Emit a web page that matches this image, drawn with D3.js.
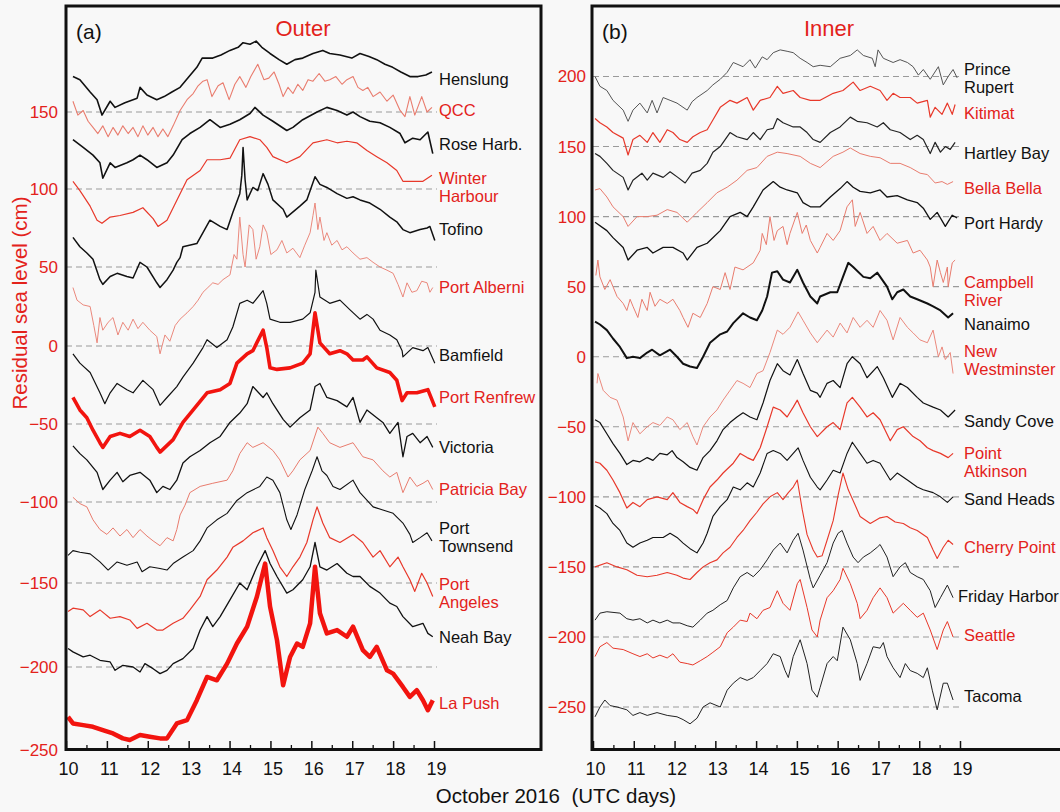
<!DOCTYPE html>
<html>
<head>
<meta charset="utf-8">
<script src="https://cdn.jsdelivr.net/npm/d3@7"></script>
<style>
  body { margin: 0; background: #f8f8f8; }
  svg text { font-family: "Liberation Sans", Arial, sans-serif; }
</style>
</head>
<body>
<svg id="chart" width="1060" height="812"></svg>
<script>
// ---- data : [UTC day of October 2016, residual sea level cm (offset for stacking)] ----
// panel (a) outer coast
const henslung = [[10.17,173],[10.34,171],[10.59,163],[10.76,158],[10.88,148],[11.08,157],[11.20,153],[11.44,156],[11.74,159],[11.81,166],[11.98,161],[12.22,158],[12.40,160],[12.59,163],[12.79,166],[13.01,173],[13.20,179],[13.33,185],[13.59,185],[13.79,187],[14.01,190],[14.21,192],[14.33,195],[14.50,194],[14.65,196],[14.79,192],[14.99,188],[15.21,184],[15.40,181],[15.60,184],[15.79,185],[16.04,188],[16.28,190],[16.45,188],[16.70,187],[16.99,185],[17.19,188],[17.41,186],[17.60,184],[17.80,181],[17.99,179],[18.19,176],[18.41,173],[18.61,173],[18.80,174],[18.95,176]];
const qcc = [[10.17,157],[10.29,148],[10.42,151],[10.54,144],[10.66,140],[10.78,136],[10.90,141],[11.03,134],[11.15,140],[11.27,135],[11.39,141],[11.52,136],[11.64,140],[11.76,134],[11.88,141],[12.00,135],[12.13,140],[12.25,134],[12.37,139],[12.49,134],[12.62,141],[12.79,151],[12.96,158],[13.11,162],[13.23,167],[13.35,170],[13.45,171],[13.57,160],[13.72,167],[13.84,169],[13.99,158],[14.13,168],[14.25,173],[14.40,166],[14.52,173],[14.69,181],[14.84,171],[14.96,172],[15.09,176],[15.21,168],[15.31,160],[15.43,166],[15.55,162],[15.67,168],[15.79,164],[15.92,171],[16.04,170],[16.19,175],[16.33,170],[16.45,171],[16.60,173],[16.75,168],[16.87,171],[17.02,173],[17.14,166],[17.26,164],[17.38,166],[17.51,160],[17.68,163],[17.85,157],[18.00,161],[18.17,151],[18.29,147],[18.41,160],[18.53,148],[18.70,160],[18.83,150],[18.95,153]];
const roseHarb = [[10.17,132],[10.42,127],[10.66,122],[10.83,117],[10.90,107],[11.08,117],[11.20,114],[11.49,117],[11.64,119],[11.81,122],[11.98,119],[12.22,114],[12.47,117],[12.62,122],[12.84,132],[13.03,136],[13.28,140],[13.52,145],[13.77,140],[14.01,142],[14.25,145],[14.50,149],[14.62,153],[14.82,148],[15.06,144],[15.40,138],[15.55,140],[15.79,145],[16.14,150],[16.38,153],[16.63,151],[16.87,148],[17.02,150],[17.19,147],[17.43,144],[17.68,143],[17.92,140],[18.17,136],[18.29,130],[18.48,133],[18.66,132],[18.85,137],[18.97,123]];
const winterHarbour = [[10.17,105],[10.34,99],[10.59,89],[10.76,80],[10.88,78],[11.08,82],[11.32,83],[11.64,85],[11.88,88],[12.13,81],[12.25,76],[12.47,80],[12.79,97],[12.96,106],[13.28,112],[13.45,119],[13.77,119],[14.01,120],[14.25,132],[14.50,134],[14.74,132],[14.91,127],[15.06,121],[15.40,117],[15.72,121],[16.04,130],[16.38,132],[16.63,130],[16.87,131],[17.11,130],[17.36,125],[17.60,121],[17.85,117],[18.09,112],[18.24,105],[18.48,105],[18.73,105],[18.95,109]];
const tofino = [[10.17,69],[10.34,63],[10.51,59],[10.66,55],[10.83,42],[10.90,39],[11.08,44],[11.25,46],[11.49,44],[11.64,43],[11.81,53],[11.98,50],[12.22,40],[12.30,37],[12.47,42],[12.62,48],[12.71,53],[12.79,56],[12.86,63],[13.20,65],[13.35,72],[13.52,80],[13.77,76],[13.94,74],[14.08,85],[14.25,97],[14.30,109],[14.33,127],[14.38,106],[14.43,93],[14.57,101],[14.69,99],[14.82,110],[14.94,103],[15.06,93],[15.31,87],[15.40,82],[15.72,89],[15.89,93],[16.09,108],[16.21,103],[16.38,101],[16.63,97],[16.87,94],[17.02,95],[17.19,93],[17.43,91],[17.68,87],[17.92,82],[18.09,79],[18.24,74],[18.41,72],[18.66,74],[18.83,75],[18.90,76],[19.02,67]];
const portAlberni = [[10.17,37],[10.27,29],[10.42,26],[10.59,25],[10.68,13],[10.76,2],[10.83,18],[10.90,10],[11.03,15],[11.15,18],[11.27,7],[11.39,15],[11.52,10],[11.64,17],[11.76,11],[11.88,15],[12.05,10],[12.22,6],[12.30,-5],[12.42,7],[12.54,3],[12.67,13],[12.79,17],[12.96,21],[13.11,25],[13.23,29],[13.35,34],[13.47,37],[13.59,40],[13.72,39],[13.84,42],[14.01,45],[14.11,58],[14.18,55],[14.25,82],[14.33,58],[14.38,50],[14.48,77],[14.57,74],[14.65,55],[14.74,63],[14.82,77],[14.91,72],[15.01,58],[15.16,61],[15.28,67],[15.40,59],[15.55,62],[15.72,56],[15.84,64],[15.97,72],[16.04,83],[16.09,91],[16.16,74],[16.21,82],[16.31,67],[16.38,72],[16.50,64],[16.63,67],[16.75,61],[16.87,63],[17.02,59],[17.19,55],[17.36,56],[17.51,53],[17.68,50],[17.85,48],[18.00,46],[18.12,39],[18.24,31],[18.34,40],[18.46,34],[18.58,35],[18.70,41],[18.83,40],[18.90,34],[18.97,37]];
const bamfield = [[10.17,-5],[10.34,-11],[10.59,-17],[10.83,-30],[10.95,-37],[11.08,-30],[11.25,-24],[11.49,-28],[11.64,-30],[11.88,-22],[12.13,-28],[12.30,-38],[12.47,-33],[12.71,-26],[12.86,-20],[13.11,-11],[13.35,-1],[13.45,4],[13.69,-1],[13.94,4],[14.08,12],[14.25,27],[14.43,29],[14.57,27],[14.82,35],[14.91,27],[14.99,17],[15.23,15],[15.48,15],[15.79,17],[15.97,21],[16.09,34],[16.11,48],[16.21,31],[16.45,27],[16.70,29],[16.94,23],[17.19,17],[17.36,20],[17.51,17],[17.68,10],[17.92,7],[18.09,4],[18.22,-3],[18.24,-7],[18.48,-1],[18.73,-3],[18.85,-1],[19.02,-11]];
const portRenfrew = [[10.17,-33],[10.34,-41],[10.51,-46],[10.66,-54],[10.83,-62],[10.90,-65],[11.08,-58],[11.32,-56],[11.56,-58],[11.81,-54],[12.05,-58],[12.22,-65],[12.30,-68],[12.62,-60],[12.86,-49],[13.11,-41],[13.45,-30],[13.77,-28],[14.01,-24],[14.18,-11],[14.43,-5],[14.57,-3],[14.82,10],[14.91,-1],[14.99,-14],[15.16,-15],[15.48,-14],[15.79,-11],[15.97,-5],[16.09,21],[16.21,2],[16.45,-5],[16.70,-3],[16.87,-5],[17.02,-9],[17.26,-9],[17.36,-7],[17.60,-14],[17.92,-17],[18.09,-22],[18.22,-35],[18.34,-30],[18.58,-30],[18.85,-28],[19.02,-39]];
const victoria = [[10.17,-64],[10.34,-69],[10.51,-73],[10.76,-81],[10.90,-92],[11.08,-86],[11.25,-81],[11.39,-87],[11.56,-83],[11.81,-81],[12.05,-86],[12.22,-94],[12.37,-90],[12.54,-92],[12.71,-86],[12.86,-75],[13.03,-71],[13.28,-67],[13.52,-62],[13.77,-58],[14.01,-49],[14.25,-43],[14.43,-37],[14.57,-26],[14.82,-33],[14.91,-30],[15.06,-37],[15.31,-47],[15.48,-52],[15.72,-46],[15.97,-41],[16.09,-26],[16.21,-24],[16.38,-33],[16.63,-35],[16.87,-39],[17.02,-33],[17.19,-49],[17.36,-41],[17.60,-46],[17.75,-49],[17.92,-56],[18.12,-49],[18.24,-71],[18.34,-58],[18.48,-56],[18.66,-62],[18.83,-58],[18.97,-65]];
const patriciaBay = [[10.17,-97],[10.34,-101],[10.51,-103],[10.66,-111],[10.83,-117],[11.00,-120],[11.15,-116],[11.32,-121],[11.49,-117],[11.64,-122],[11.81,-117],[11.98,-121],[12.13,-124],[12.30,-127],[12.47,-122],[12.62,-124],[12.71,-117],[12.79,-108],[12.91,-102],[13.03,-94],[13.28,-90],[13.59,-88],[13.94,-86],[14.08,-80],[14.25,-69],[14.43,-62],[14.57,-65],[14.82,-62],[15.06,-67],[15.23,-73],[15.43,-84],[15.55,-80],[15.72,-73],[15.97,-67],[16.16,-52],[16.28,-56],[16.45,-62],[16.70,-65],[17.02,-62],[17.26,-71],[17.51,-73],[17.75,-80],[17.92,-84],[18.09,-81],[18.24,-94],[18.41,-84],[18.58,-90],[18.73,-88],[18.85,-86],[18.97,-92]];
const portTownsend = [[10.05,-133],[10.17,-130],[10.34,-131],[10.59,-132],[10.83,-137],[11.03,-142],[11.25,-137],[11.49,-139],[11.74,-137],[11.86,-143],[12.05,-140],[12.30,-141],[12.47,-142],[12.62,-138],[12.86,-134],[13.11,-130],[13.28,-124],[13.45,-116],[13.69,-111],[13.94,-107],[14.18,-99],[14.43,-94],[14.74,-90],[14.91,-84],[15.06,-86],[15.23,-94],[15.40,-111],[15.50,-117],[15.65,-108],[15.84,-92],[16.02,-80],[16.14,-71],[16.26,-80],[16.38,-83],[16.53,-90],[16.70,-92],[17.02,-86],[17.19,-94],[17.51,-103],[17.75,-105],[18.00,-107],[18.24,-113],[18.41,-120],[18.48,-125],[18.66,-122],[18.83,-119],[18.95,-124]];
const portAngeles = [[10.05,-167],[10.17,-165],[10.42,-166],[10.59,-170],[10.83,-166],[11.08,-171],[11.32,-170],[11.56,-172],[11.74,-177],[11.98,-174],[12.22,-178],[12.37,-178],[12.62,-174],[12.86,-171],[13.03,-166],[13.28,-158],[13.45,-148],[13.69,-142],[13.94,-134],[14.08,-128],[14.33,-124],[14.57,-119],[14.82,-116],[14.91,-122],[15.06,-130],[15.23,-140],[15.40,-146],[15.55,-140],[15.72,-134],[15.89,-125],[16.04,-111],[16.14,-103],[16.28,-113],[16.45,-122],[16.70,-125],[17.02,-120],[17.26,-125],[17.51,-134],[17.68,-130],[17.92,-140],[18.12,-134],[18.24,-140],[18.41,-148],[18.53,-155],[18.70,-144],[18.83,-150],[18.97,-158]];
const neahBay = [[10.05,-189],[10.17,-191],[10.42,-194],[10.59,-193],[10.83,-196],[11.08,-197],[11.20,-202],[11.39,-199],[11.64,-200],[11.81,-203],[11.93,-198],[12.13,-201],[12.30,-204],[12.47,-202],[12.62,-198],[12.86,-195],[13.11,-189],[13.28,-178],[13.45,-170],[13.59,-176],[13.77,-170],[14.01,-160],[14.25,-150],[14.43,-154],[14.67,-140],[14.87,-130],[14.99,-138],[15.16,-146],[15.40,-156],[15.55,-154],[15.79,-148],[15.97,-140],[16.09,-125],[16.21,-140],[16.38,-142],[16.63,-138],[16.87,-144],[17.02,-146],[17.19,-146],[17.43,-152],[17.68,-156],[17.92,-162],[18.09,-164],[18.24,-170],[18.48,-176],[18.73,-174],[18.85,-180],[18.97,-182]];
const laPush = [[10.05,-230],[10.17,-234],[10.42,-235],[10.66,-236],[10.90,-238],[11.15,-240],[11.39,-243],[11.56,-244],[11.81,-241],[12.05,-242],[12.30,-243],[12.47,-243],[12.71,-234],[12.96,-232],[13.20,-220],[13.45,-206],[13.69,-208],[13.94,-198],[14.18,-186],[14.43,-176],[14.67,-158],[14.87,-138],[14.99,-164],[15.16,-184],[15.31,-211],[15.48,-194],[15.65,-186],[15.79,-188],[15.97,-174],[16.09,-140],[16.21,-168],[16.38,-180],[16.63,-178],[16.87,-182],[17.02,-176],[17.26,-190],[17.43,-194],[17.60,-188],[17.85,-202],[18.00,-204],[18.24,-212],[18.41,-218],[18.58,-214],[18.73,-220],[18.85,-226],[18.97,-220]];

// panel (b) inner waters
const princeRupert = [[10.05,200],[10.17,193],[10.34,190],[10.49,183],[10.74,176],[10.86,168],[10.98,176],[11.15,181],[11.33,174],[11.45,183],[11.57,174],[11.72,185],[11.89,183],[12.06,181],[12.31,176],[12.43,182],[12.55,185],[12.80,190],[12.94,194],[13.12,198],[13.29,203],[13.44,210],[13.68,207],[13.85,212],[13.98,206],[14.15,214],[14.27,212],[14.42,217],[14.59,219],[14.76,218],[14.91,217],[15.08,213],[15.25,210],[15.40,207],[15.57,208],[15.82,207],[16.06,213],[16.31,215],[16.48,219],[16.63,215],[16.85,213],[16.92,207],[16.99,219],[17.12,213],[17.36,210],[17.53,212],[17.71,210],[17.85,207],[17.98,201],[18.10,205],[18.27,198],[18.47,207],[18.59,194],[18.71,200],[18.83,205],[18.93,199]];
const kitimat = [[10.05,170],[10.17,167],[10.34,164],[10.49,160],[10.74,156],[10.86,144],[10.98,155],[11.15,158],[11.33,153],[11.47,160],[11.64,153],[11.82,162],[11.96,160],[12.13,155],[12.31,153],[12.45,157],[12.63,160],[12.80,162],[12.94,169],[13.12,178],[13.36,183],[13.53,181],[13.78,185],[13.93,176],[14.10,183],[14.34,185],[14.52,193],[14.66,188],[14.91,190],[15.08,185],[15.33,183],[15.57,183],[15.89,188],[16.13,190],[16.38,196],[16.55,190],[16.80,193],[17.04,190],[17.21,183],[17.36,188],[17.53,185],[17.78,185],[17.95,181],[18.20,183],[18.27,171],[18.39,178],[18.56,173],[18.69,181],[18.81,173],[18.88,180]];
const hartleyBay = [[10.05,145],[10.17,143],[10.34,138],[10.49,133],[10.74,128],[10.86,119],[10.98,126],[11.20,131],[11.33,126],[11.47,131],[11.72,128],[11.89,132],[12.08,128],[12.26,124],[12.43,131],[12.63,133],[12.80,138],[12.94,146],[13.12,150],[13.36,160],[13.53,157],[13.78,155],[13.93,160],[14.10,155],[14.27,162],[14.42,163],[14.52,170],[14.66,167],[14.91,164],[15.08,164],[15.25,160],[15.40,155],[15.57,153],[15.82,160],[16.06,164],[16.31,171],[16.48,168],[16.72,167],[16.97,164],[17.12,167],[17.29,162],[17.53,160],[17.78,155],[17.95,158],[18.10,155],[18.27,145],[18.39,153],[18.52,146],[18.64,150],[18.76,148],[18.88,153]];
const bellaBella = [[10.05,119],[10.17,120],[10.34,114],[10.49,107],[10.74,100],[10.86,93],[11.08,100],[11.33,100],[11.57,101],[11.82,105],[12.06,103],[12.31,96],[12.55,103],[12.80,110],[13.04,117],[13.29,121],[13.53,126],[13.78,133],[14.02,135],[14.27,143],[14.52,146],[14.76,145],[15.08,143],[15.33,138],[15.57,135],[15.89,143],[16.13,146],[16.31,149],[16.55,145],[16.80,143],[17.04,142],[17.29,138],[17.53,138],[17.78,135],[18.02,131],[18.20,130],[18.39,124],[18.56,125],[18.69,123],[18.83,125]];
const portHardy = [[10.05,96],[10.34,90],[10.49,85],[10.74,78],[10.86,69],[11.08,76],[11.33,78],[11.47,74],[11.72,78],[11.96,78],[12.21,74],[12.31,69],[12.55,78],[12.80,81],[13.12,90],[13.36,100],[13.61,103],[13.78,100],[13.93,107],[14.17,119],[14.42,125],[14.59,121],[14.76,119],[15.01,117],[15.15,110],[15.33,107],[15.57,107],[15.82,114],[16.06,120],[16.23,125],[16.38,121],[16.55,118],[16.80,117],[17.04,119],[17.21,114],[17.46,115],[17.71,112],[17.95,110],[18.10,106],[18.27,98],[18.44,103],[18.64,93],[18.81,101],[18.93,99]];
const campbellRiver = [[10.07,58],[10.12,69],[10.17,57],[10.29,48],[10.42,55],[10.49,50],[10.59,43],[10.74,38],[10.83,33],[10.91,41],[10.98,36],[11.10,28],[11.20,41],[11.33,33],[11.40,46],[11.52,36],[11.64,41],[11.82,38],[11.96,41],[12.13,33],[12.21,28],[12.33,21],[12.45,31],[12.63,28],[12.80,38],[12.94,50],[13.12,48],[13.24,60],[13.36,48],[13.48,64],[13.68,62],[13.93,67],[14.10,76],[14.15,88],[14.25,80],[14.34,100],[14.44,83],[14.52,90],[14.66,93],[14.76,80],[14.83,88],[15.01,103],[15.13,88],[15.23,94],[15.33,83],[15.50,74],[15.57,78],[15.74,88],[15.89,83],[16.06,90],[16.23,107],[16.36,112],[16.43,93],[16.55,103],[16.72,88],[16.87,93],[17.04,83],[17.21,88],[17.46,81],[17.71,83],[17.85,74],[18.02,76],[18.20,69],[18.27,64],[18.34,50],[18.44,69],[18.52,60],[18.59,53],[18.69,64],[18.71,50],[18.81,67],[18.88,69]];
const nanaimo = [[10.05,25],[10.17,23],[10.34,19],[10.49,13],[10.66,7],[10.83,-1],[10.98,0],[11.15,-1],[11.33,3],[11.45,5],[11.64,1],[11.89,5],[12.06,0],[12.21,-5],[12.38,-7],[12.55,-8],[12.70,0],[12.87,10],[13.12,16],[13.29,18],[13.44,24],[13.68,31],[13.85,28],[14.02,26],[14.15,33],[14.27,43],[14.39,60],[14.52,61],[14.66,55],[14.83,53],[15.01,62],[15.15,53],[15.33,43],[15.50,38],[15.57,43],[15.82,46],[15.99,46],[16.13,57],[16.26,67],[16.38,64],[16.63,57],[16.80,56],[16.97,60],[17.21,50],[17.34,41],[17.46,46],[17.61,48],[17.78,43],[17.95,41],[18.20,38],[18.34,36],[18.52,33],[18.71,28],[18.83,31]];
const newWestminster = [[10.10,-19],[10.12,-12],[10.25,-24],[10.42,-29],[10.59,-31],[10.74,-43],[10.86,-60],[10.98,-47],[11.15,-55],[11.33,-50],[11.47,-47],[11.64,-49],[11.82,-43],[11.96,-45],[12.13,-52],[12.31,-47],[12.45,-57],[12.55,-63],[12.70,-50],[12.87,-43],[13.04,-38],[13.19,-31],[13.36,-24],[13.53,-17],[13.68,-19],[13.85,-22],[14.02,-12],[14.17,-10],[14.34,3],[14.52,19],[14.66,16],[14.83,21],[15.03,32],[15.15,26],[15.33,17],[15.50,10],[15.74,19],[15.89,14],[16.06,24],[16.23,17],[16.38,28],[16.55,21],[16.72,26],[16.87,21],[17.04,33],[17.21,26],[17.36,12],[17.53,28],[17.71,21],[17.85,17],[18.02,12],[18.20,10],[18.34,19],[18.47,0],[18.56,7],[18.64,-2],[18.76,3],[18.83,-12]];
const sandyCove = [[10.05,-45],[10.17,-47],[10.34,-55],[10.49,-62],[10.66,-69],[10.83,-77],[10.98,-74],[11.15,-75],[11.33,-72],[11.47,-74],[11.64,-69],[11.82,-70],[11.94,-67],[12.06,-72],[12.21,-75],[12.38,-79],[12.55,-81],[12.70,-72],[12.87,-67],[13.04,-60],[13.19,-52],[13.36,-47],[13.53,-43],[13.68,-40],[13.85,-43],[14.02,-45],[14.17,-33],[14.34,-17],[14.52,-5],[14.66,-10],[14.83,-13],[15.01,-2],[15.15,-12],[15.33,-24],[15.50,-26],[15.57,-29],[15.74,-19],[15.89,-17],[16.06,-22],[16.23,-5],[16.36,0],[16.55,-5],[16.72,-15],[16.97,-7],[17.12,-15],[17.34,-29],[17.53,-19],[17.71,-22],[17.95,-29],[18.10,-33],[18.34,-36],[18.52,-38],[18.71,-43],[18.88,-38]];
const pointAtkinson = [[10.05,-75],[10.17,-76],[10.34,-81],[10.49,-88],[10.66,-97],[10.83,-108],[10.98,-104],[11.15,-107],[11.33,-102],[11.57,-100],[11.82,-102],[11.96,-97],[12.13,-104],[12.31,-107],[12.45,-109],[12.55,-112],[12.70,-102],[12.87,-93],[13.04,-88],[13.19,-83],[13.44,-76],[13.61,-69],[13.78,-72],[13.93,-74],[14.10,-65],[14.27,-50],[14.42,-36],[14.59,-38],[14.76,-43],[14.91,-36],[15.01,-31],[15.15,-40],[15.33,-50],[15.50,-57],[15.74,-50],[15.89,-47],[16.06,-52],[16.23,-33],[16.36,-29],[16.55,-36],[16.72,-43],[16.87,-40],[17.04,-45],[17.29,-60],[17.46,-52],[17.61,-50],[17.85,-57],[18.02,-60],[18.20,-65],[18.34,-67],[18.52,-69],[18.71,-72],[18.83,-69]];
const sandHeads = [[10.05,-106],[10.17,-108],[10.34,-112],[10.49,-119],[10.66,-124],[10.83,-133],[10.98,-136],[11.15,-133],[11.33,-131],[11.47,-129],[11.72,-129],[11.89,-126],[12.06,-129],[12.21,-133],[12.38,-137],[12.55,-140],[12.70,-133],[12.80,-126],[12.94,-114],[13.12,-107],[13.29,-102],[13.44,-93],[13.61,-95],[13.78,-90],[13.93,-93],[14.10,-83],[14.27,-69],[14.42,-67],[14.59,-69],[14.76,-74],[14.91,-69],[15.03,-65],[15.15,-74],[15.33,-86],[15.50,-93],[15.57,-95],[15.74,-88],[15.89,-81],[16.06,-83],[16.23,-69],[16.36,-61],[16.55,-69],[16.72,-76],[16.87,-74],[17.04,-76],[17.29,-88],[17.46,-83],[17.71,-88],[17.95,-93],[18.10,-95],[18.34,-97],[18.52,-100],[18.69,-104],[18.83,-100]];
const cherryPoint = [[10.05,-150],[10.34,-147],[10.59,-150],[10.83,-152],[11.08,-156],[11.33,-157],[11.57,-156],[11.82,-154],[12.06,-156],[12.21,-158],[12.38,-159],[12.55,-154],[12.70,-150],[12.87,-147],[13.04,-145],[13.19,-140],[13.36,-136],[13.53,-129],[13.68,-124],[13.85,-117],[14.02,-111],[14.17,-105],[14.34,-100],[14.52,-97],[14.66,-102],[14.79,-97],[14.91,-93],[15.01,-88],[15.13,-109],[15.25,-127],[15.40,-138],[15.50,-143],[15.62,-142],[15.74,-131],[15.89,-117],[16.01,-99],[16.13,-83],[16.26,-95],[16.43,-106],[16.55,-114],[16.80,-119],[17.04,-115],[17.21,-114],[17.41,-118],[17.61,-119],[17.78,-122],[17.95,-124],[18.20,-129],[18.34,-138],[18.44,-144],[18.59,-136],[18.71,-131],[18.83,-134]];
const fridayHarbor = [[10.05,-188],[10.17,-183],[10.34,-182],[10.66,-183],[10.83,-187],[10.98,-188],[11.15,-187],[11.33,-190],[11.47,-188],[11.64,-190],[11.82,-188],[11.96,-190],[12.13,-190],[12.31,-192],[12.45,-193],[12.63,-188],[12.80,-183],[12.94,-181],[13.12,-177],[13.29,-174],[13.44,-165],[13.61,-157],[13.78,-154],[13.93,-157],[14.10,-152],[14.27,-145],[14.42,-138],[14.59,-133],[14.76,-140],[14.91,-131],[15.03,-126],[15.15,-138],[15.33,-159],[15.40,-165],[15.57,-156],[15.74,-147],[15.89,-133],[16.01,-126],[16.11,-124],[16.23,-133],[16.38,-143],[16.50,-147],[16.63,-143],[16.80,-140],[16.97,-136],[17.04,-134],[17.21,-143],[17.36,-157],[17.53,-150],[17.66,-147],[17.78,-154],[17.95,-157],[18.10,-159],[18.27,-167],[18.39,-179],[18.52,-172],[18.69,-163],[18.83,-172]];
const seattle = [[10.05,-214],[10.17,-207],[10.34,-204],[10.49,-208],[10.74,-209],[10.98,-212],[11.15,-214],[11.33,-212],[11.47,-215],[11.64,-213],[11.82,-215],[11.96,-212],[12.13,-218],[12.31,-219],[12.45,-220],[12.63,-217],[12.80,-214],[12.94,-211],[13.12,-207],[13.29,-197],[13.44,-193],[13.61,-188],[13.78,-189],[13.85,-183],[14.02,-187],[14.17,-181],[14.34,-179],[14.52,-167],[14.66,-176],[14.83,-181],[15.01,-162],[15.08,-159],[15.25,-179],[15.37,-195],[15.50,-200],[15.57,-188],[15.74,-172],[15.89,-167],[16.06,-159],[16.13,-151],[16.31,-162],[16.48,-176],[16.55,-187],[16.72,-181],[16.87,-172],[17.04,-165],[17.21,-172],[17.36,-183],[17.61,-176],[17.78,-181],[17.95,-186],[18.10,-183],[18.27,-195],[18.44,-209],[18.59,-195],[18.69,-189],[18.83,-200]];
const tacoma = [[10.05,-257],[10.17,-250],[10.29,-245],[10.42,-249],[10.59,-250],[10.83,-252],[10.98,-256],[11.15,-254],[11.33,-256],[11.57,-254],[11.82,-256],[12.06,-257],[12.21,-259],[12.38,-262],[12.55,-258],[12.70,-250],[12.87,-247],[13.12,-250],[13.29,-238],[13.44,-233],[13.61,-229],[13.78,-231],[13.93,-229],[14.10,-224],[14.27,-219],[14.42,-212],[14.59,-214],[14.71,-224],[14.79,-229],[14.91,-214],[15.08,-202],[15.25,-219],[15.37,-238],[15.50,-243],[15.57,-236],[15.74,-219],[15.89,-214],[15.99,-217],[16.13,-193],[16.31,-202],[16.48,-219],[16.55,-231],[16.72,-219],[16.87,-207],[17.04,-208],[17.12,-204],[17.21,-214],[17.36,-222],[17.53,-229],[17.66,-219],[17.78,-224],[17.95,-226],[18.10,-229],[18.20,-222],[18.32,-238],[18.44,-252],[18.59,-233],[18.69,-233],[18.83,-245]];

const outerNames = ["Henslung","QCC","Rose Harb.","Winter\nHarbour","Tofino","Port Alberni","Bamfield","Port Renfrew","Victoria","Patricia Bay","Port\nTownsend","Port\nAngeles","Neah Bay","La Push"];
const outerSeries = [henslung, qcc, roseHarb, winterHarbour, tofino, portAlberni, bamfield, portRenfrew, victoria, patriciaBay, portTownsend, portAngeles, neahBay, laPush];
const innerNames = ["Prince\nRupert","Kitimat","Hartley Bay","Bella Bella","Port Hardy","Campbell\nRiver","Nanaimo","New\nWestminster","Sandy Cove","Point\nAtkinson","Sand Heads","Cherry Point","Friday Harbor","Seattle","Tacoma"];
const innerSeries = [princeRupert, kitimat, hartleyBay, bellaBella, portHardy, campbellRiver, nanaimo, newWestminster, sandyCove, pointAtkinson, sandHeads, cherryPoint, fridayHarbor, seattle, tacoma];
const dayTicks = [10, 11, 12, 13, 14, 15, 16, 17, 18, 19];
const outerLevels = [-200, -150, -100, -50, 0, 50, 100, 150];
const innerLevels = [-250, -200, -150, -100, -50, 0, 50, 100, 150, 200];

// ---- drawing ----
const svg = d3.select("#chart");
const INK = "#111", RED = "#f2140f", RED2 = "#e8382a", PINK = "#e97c6e", TXTRED = "#e3221b";
const FONT = "'Liberation Sans', Arial, sans-serif";

// line styles and label anchors (cm on each panel's axis)
const outerStyle = [[INK,1.6],[PINK,1.1],[INK,1.6],[RED2,1.2],[INK,1.5],[PINK,0.9],[INK,1.2],[RED,3.6],[INK,1.3],[PINK,1.0],[INK,1.1],[RED2,1.2],[INK,1.3],[RED,4.5]];
const outerLabelAt = [171, 151, 129, 107, 74, 37, -6, -33, -65, -92, -116, -151, -182, -222];
const innerStyle = [["#555",1.0],[RED2,1.2],["#222",1.2],[PINK,1.0],[INK,1.3],[PINK,1.0],[INK,2.0],[PINK,0.9],[INK,1.2],[RED2,1.2],[INK,1.1],[RED2,1.1],["#222",1.0],[RED2,1.0],["#222",1.0]];
const innerLabelAt = [205, 174, 145, 120, 95, 53, 23, 4, -46, -69, -102, -136, -171, -199, -242];

const panels = [
  { x: d3.scaleLinear().domain([10, 19]).range([66, 434]),
    y: d3.scaleLinear().domain([-250, -200, -150, -100, -50, 0, 50, 100, 150]).range([750, 667, 583, 502, 424, 346, 267, 189, 112]),
    series: outerSeries, names: outerNames, style: outerStyle, labelAt: outerLabelAt, levels: outerLevels,
    dashEnd: 437, labelX: 439, frame: [66, 6, 475, 743.5], tag: "(a)", tagX: 76, title: "Outer", titleX: 303, yTextEnd: 58 },
  { x: d3.scaleLinear().domain([10, 19]).range([593, 960]),
    y: d3.scaleLinear().domain([-250, 200]).range([707, 76.5]),
    series: innerSeries, names: innerNames, style: innerStyle, labelAt: innerLabelAt, levels: innerLevels,
    dashEnd: 962, labelX: 964, frame: [592, 6, 480, 743.5], tag: "(b)", tagX: 602, title: "Inner", titleX: 829, yTextEnd: 586 }
];

panels.forEach(function(p) {
  const g = svg.append("g");

  // dashed reference lines
  g.selectAll("line.ref").data(p.levels).join("line")
    .attr("class", "ref")
    .attr("x1", p.x(10)).attr("x2", p.dashEnd)
    .attr("y1", d => p.y(d)).attr("y2", d => p.y(d))
    .attr("stroke", "#9a9a9a").attr("stroke-width", 1.1)
    .attr("stroke-dasharray", "6,4");

  // series
  const line = d3.line().x(d => p.x(d[0])).y(d => p.y(d[1]));
  g.selectAll("path.series").data(p.series).join("path")
    .attr("class", "series")
    .attr("d", d => line(d))
    .attr("fill", "none")
    .attr("stroke", (d, i) => p.style[i][0])
    .attr("stroke-width", (d, i) => p.style[i][1])
    .attr("stroke-linejoin", "round");

  // station names
  const labels = g.selectAll("text.station").data(p.names).join("text")
    .attr("class", "station")
    .attr("x", d => d === "Friday Harbor" ? p.labelX - 6 : p.labelX)
    .attr("y", (d, i) => p.y(p.labelAt[i]))
    .attr("font-size", 16.5)
    .attr("fill", (d, i) => p.style[i][0] === RED || p.style[i][0] === RED2 || p.style[i][0] === PINK ? TXTRED : INK);
  labels.selectAll("tspan").data(d => d.split("\n")).join("tspan")
    .attr("x", function() { return this.parentNode.getAttribute("x"); })
    .attr("dy", (d, i) => i === 0 ? "0.35em" : "18")
    .text(d => d);

  // x axis: major and minor ticks pointing inward
  const ax = svg.append("g").attr("transform", "translate(0,750)")
    .call(d3.axisBottom(p.x).tickValues(dayTicks).tickSize(-9).tickPadding(12).tickFormat(d3.format("d")));
  ax.attr("font-family", FONT).attr("font-size", 18);
  ax.select(".domain").remove();
  ax.selectAll("line").attr("stroke", INK).attr("stroke-width", 1.5);
  ax.selectAll("text").attr("fill", INK).attr("dx", 2);
  const axm = svg.append("g").attr("transform", "translate(0,750)")
    .call(d3.axisBottom(p.x).tickValues(d3.range(10.5, 19, 1)).tickSize(-5).tickFormat(""));
  axm.select(".domain").remove();
  axm.selectAll("line").attr("stroke", INK).attr("stroke-width", 1.3);

  // y axis labels (red)
  const ay = svg.append("g").attr("transform", `translate(${p.frame[0]},0)`)
    .call(d3.axisLeft(p.y).tickValues(d3.range(-250, p.levels[p.levels.length - 1] + 1, 50)).tickSize(0).tickPadding(p.frame[0] - p.yTextEnd).tickFormat(d3.format("d")));
  ay.attr("font-family", FONT).attr("font-size", 17);
  ay.select(".domain").remove();
  ay.selectAll("text").attr("fill", TXTRED);

  // frame
  svg.append("rect")
    .attr("x", p.frame[0]).attr("y", p.frame[1])
    .attr("width", p.frame[2]).attr("height", p.frame[3])
    .attr("fill", "none").attr("stroke", INK).attr("stroke-width", 3);

  // panel tag and title
  svg.append("text").attr("x", p.tagX).attr("y", 39)
    .attr("font-size", 21).attr("fill", INK).text(p.tag);
  svg.append("text").attr("x", p.titleX).attr("y", 36)
    .attr("text-anchor", "middle").attr("font-size", 22).attr("fill", TXTRED).text(p.title);
});

// axis titles
svg.append("text")
  .attr("transform", "translate(27,303) rotate(-90)")
  .attr("text-anchor", "middle").attr("font-size", 20.5).attr("fill", TXTRED)
  .text("Residual sea level (cm)");

svg.append("text")
  .attr("x", 556).attr("y", 803)
  .attr("text-anchor", "middle").attr("font-size", 20.5).attr("fill", INK)
  .style("white-space", "pre")
  .text("October 2016  (UTC days)");
</script>
</body>
</html>
